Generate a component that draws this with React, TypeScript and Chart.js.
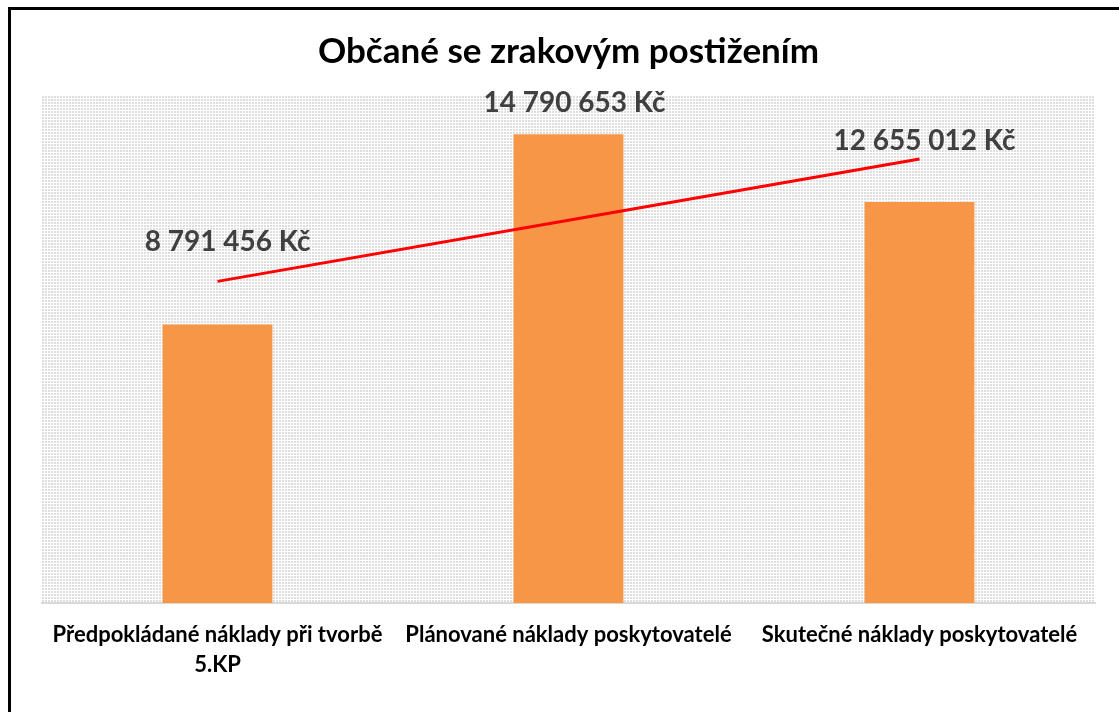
import React, { useEffect, useRef } from "react";
import { Chart, registerables } from "chart.js";

Chart.register(...registerables);

const TITLE = "Občané se zrakovým postižením";
const CATEGORIES: (string | string[])[] = [
  ["Předpokládané náklady při tvorbě", "5.KP"],
  "Plánované náklady poskytovatelé",
  "Skutečné náklady poskytovatelé",
];
const COSTS = [8791456, 14790653, 12655012];
const COST_LABELS = ["8 791 456 Kč", "14 790 653 Kč", "12 655 012 Kč"];
const TREND = [10150000, 12080000, 14010000];

const FONT = "Lato, 'Noto Sans', 'DejaVu Sans', sans-serif";

export default function App() {
  const ref = useRef<HTMLCanvasElement | null>(null);

  useEffect(() => {
    const canvas = ref.current!;
    const pat = document.createElement("canvas");
    pat.width = 3;
    pat.height = 3;
    const pctx = pat.getContext("2d")!;
    pctx.fillStyle = "#ffffff";
    pctx.fillRect(0, 0, 3, 3);
    pctx.fillStyle = "#dedede";
    pctx.fillRect(0, 0, 2, 2);

    const labelOffsets = [
      [10, -82],
      [6, -31],
      [5, -61],
    ];

    const decor = {
      id: "decor",
      beforeDraw(chart: any) {
        const { ctx, chartArea } = chart;
        ctx.save();
        ctx.fillStyle = "#ffffff";
        ctx.fillRect(0, 0, chart.width, chart.height);
        const p = ctx.createPattern(pat, "repeat");
        ctx.fillStyle = p;
        ctx.fillRect(chartArea.left, chartArea.top, chartArea.right - chartArea.left, chartArea.bottom - chartArea.top);
        ctx.fillStyle = "#000000";
        ctx.fillRect(8, 7, 3, chart.height - 7);
        ctx.fillRect(8, 7, chart.width - 8, 3);
        ctx.restore();
      },
      afterDatasetsDraw(chart: any) {
        const { ctx } = chart;
        const meta = chart.getDatasetMeta(1);
        ctx.save();
        ctx.font = `bold 28px ${FONT}`;
        ctx.fillStyle = "#404040";
        ctx.textAlign = "center";
        ctx.textBaseline = "middle";
        meta.data.forEach((el: any, i: number) => {
          const [dx, dy] = labelOffsets[i];
          ctx.fillText(COST_LABELS[i], el.x + dx, el.y + dy);
        });
        ctx.restore();
      },
    };

    const chart = new Chart(canvas, {
      type: "bar",
      data: {
        labels: CATEGORIES,
        datasets: [
          {
            type: "line",
            label: "Trend",
            data: TREND,
            borderColor: "#ff0000",
            borderWidth: 3,
            pointRadius: 0,
            fill: false,
            order: 0,
          } as any,
          {
            type: "bar",
            label: "Náklady",
            data: COSTS,
            backgroundColor: "#f79646",
            categoryPercentage: 1,
            barPercentage: 0.313,
            order: 1,
          },
        ],
      },
      options: {
        animation: false,
        responsive: false,
        layout: { padding: { left: 42, right: 24, top: 31, bottom: 0 } },
        plugins: {
          legend: { display: false },
          tooltip: { enabled: false },
          title: {
            display: true,
            text: TITLE,
            color: "#000000",
            font: { family: FONT, size: 35, weight: "bold", lineHeight: 1.2 },
            padding: { top: 0, bottom: 23 },
          },
        },
        scales: {
          x: {
            grid: { display: false, drawTicks: false },
            border: { display: true, color: "#d9d9d9", width: 2 },
            ticks: {
              color: "#000000",
              padding: 17,
              maxRotation: 0,
              autoSkip: false,
              font: { family: FONT, size: 22, weight: "bold", lineHeight: 1.36 },
            },
            afterFit(scale: any) {
              scale.height = 109;
            },
          },
          y: {
            display: false,
            min: 0,
            max: 16000000,
          },
        },
      },
      plugins: [decor],
    });
    return () => chart.destroy();
  }, []);

  return (
    <div style={{ position: "absolute", left: 0, top: 0, width: 1119, height: 712 }}>
      <canvas ref={ref} width={1119} height={712} style={{ display: "block" }} />
    </div>
  );
}
